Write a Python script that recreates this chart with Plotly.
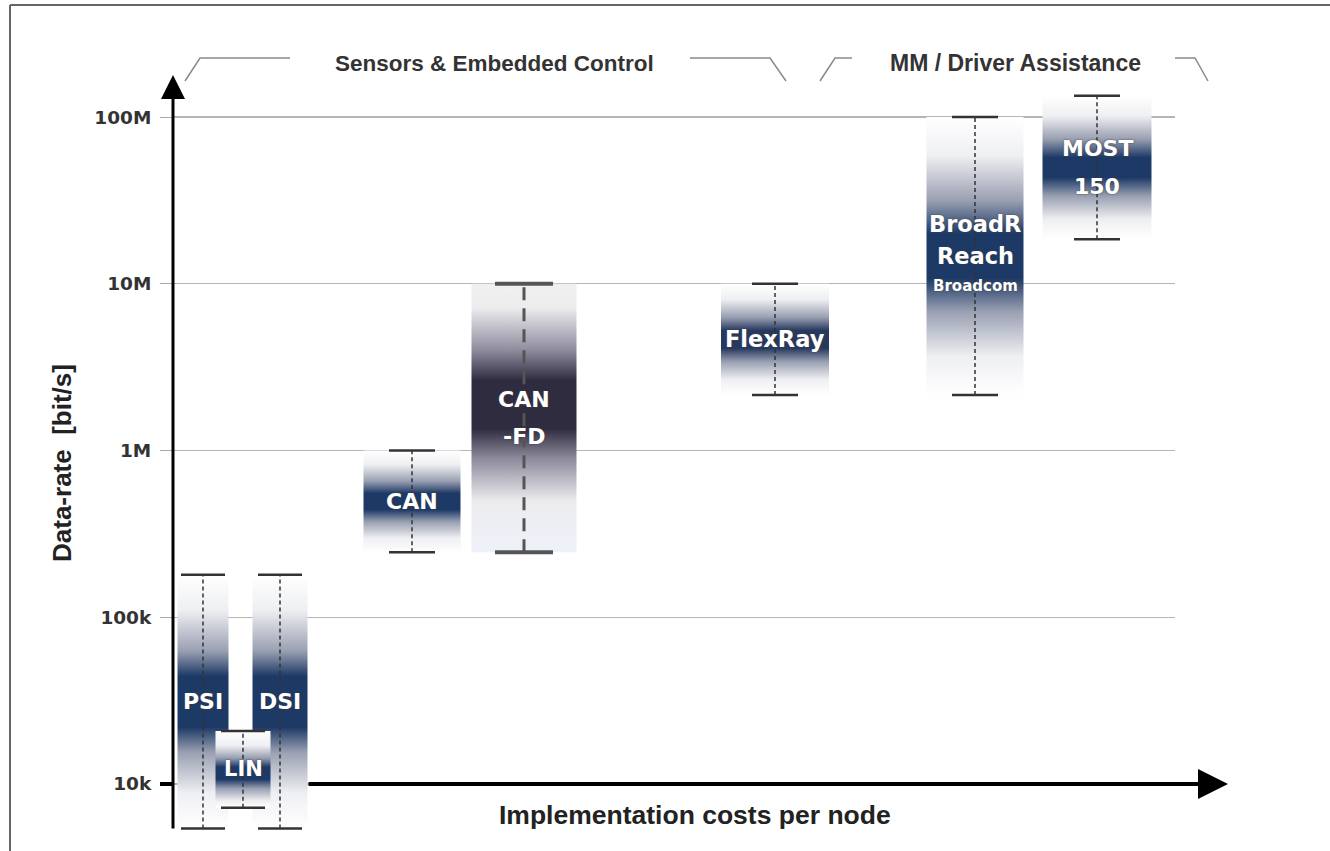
import math
import plotly.graph_objects as go

# ---------------- data ----------------
protocols = ["PSI", "DSI", "LIN", "CAN", "CAN-FD", "FlexRay", "BroadR-Reach", "MOST150"]
cost_index = [30, 107, 70, 239, 351, 602, 802, 924]          # relative implementation cost (x)
rate_min = [5.4e3, 5.4e3, 7.2e3, 2.45e5, 2.45e5, 2.15e6, 2.15e6, 1.85e7]   # bit/s
rate_max = [1.8e5, 1.8e5, 2.08e4, 1.0e6, 1.0e7, 1.0e7, 1.0e8, 1.34e8]      # bit/s
bar_labels = [["PSI"], ["DSI"], ["LIN"], ["CAN"], ["CAN", "-FD"], ["FlexRay"],
              ["BroadR", "Reach", "Broadcom"], ["MOST", "150"]]
tick_values = [1e4, 1e5, 1e6, 1e7, 1e8]
tick_labels = ["10k", "100k", "1M", "10M", "100M"]
group_labels = ["Sensors & Embedded Control", "MM / Driver Assistance"]
y_title = "Data-rate\u00a0\u00a0[bit/s]"
x_title = "Implementation costs per node"

# ---------------- styles ----------------
OFF = 0                      # page body margin is removed by post_script below
W, H = 1330 - OFF, 851 - OFF
L, R, T, B = 173 - OFF, 155, 75 - OFF, 21
PW, PH = W - L - R, H - T - B
Y_RANGE = [3.724, 8.252]
X_RANGE = [0, PW]

bar_width = [51, 55, 55, 97, 105, 108, 97, 109]
cap_width = [44, 44, 44, 46, 58, 46, 46, 46]
grad_center = [0.5, 0.5, 0.45, 0.5, 0.55, 0.5, 0.5, 0.5]
grad_half = [0.1, 0.1, 0.08, 0.08, 0.09, 0.08, 0.08, 0.07]
dark_col = ["#1d3966", "#1d3966", "#1d3966", "#1d3966", "#2f2c3f", "#27395f", "#1d3966", "#1d3966"]
mid_col = ["#9aa0b2"] * 4 + ["#8d8a9c"] + ["#9aa0b2"] * 3
light_col = ["#eeeff2"] * 4 + ["#ececee"] + ["#eeeff2"] * 3
top_col = ["#ffffff"] * 4 + ["#f0f0f1"] + ["#ffffff"] * 3
bot_col = ["#ffffff"] * 4 + ["#eef1f9"] + ["#ffffff"] * 3
whisk_col = ["#333333"] * 4 + ["#555555"] + ["#333333"] * 3
whisk_w = [1.5] * 4 + [3] + [1.5] * 3
whisk_dash = ["4px,3px"] * 4 + ["13px,8px"] + ["4px,3px"] * 3
cap_lw = [2.5] * 4 + [4] + [2.5] * 3
line_gap = [0, 0, 0, 0, 37, 0, 32, 38]
label_size = [22, 22, 21, 22, 22, 22.5, 22.5, 22]


def px_x(p):
    """reference-picture pixel x -> paper fraction"""
    return (p - OFF - L) / PW


def px_y(p):
    """reference-picture pixel y -> paper fraction"""
    return (H - B - (p - OFF)) / PH


def log_frac(v):
    return (math.log10(v) - Y_RANGE[0]) / (Y_RANGE[1] - Y_RANGE[0])


def gradient(i):
    c, hw = grad_center[i], grad_half[i]
    pts = [(0, bot_col[i]), (c - 0.36, light_col[i]), (c - 0.2, mid_col[i]),
           (c - hw, dark_col[i]), (c + hw, dark_col[i]), (c + 0.2, mid_col[i]),
           (c + 0.36, light_col[i]), (1, top_col[i])]
    out = []
    for p, col in pts:
        p = min(max(p, 0), 1)
        if out and p <= out[-1][0]:
            p = min(out[-1][0] + 0.001, 1)
        out.append([p, col])
    out[-1][0] = 1
    return out


fig = go.Figure()

# gradient bars
for i, name in enumerate(protocols):
    x0 = cost_index[i] - bar_width[i] / 2
    x1 = cost_index[i] + bar_width[i] / 2
    fig.add_trace(go.Scatter(
        x=[x0, x1, x1, x0, x0],
        y=[rate_min[i], rate_min[i], rate_max[i], rate_max[i], rate_min[i]],
        mode="lines", line=dict(width=0, color="rgba(0,0,0,0)"),
        fill="toself",
        fillgradient=dict(type="vertical", colorscale=gradient(i)),
        hoverinfo="skip", showlegend=False, name=name))

# whiskers
for i, name in enumerate(protocols):
    c = cost_index[i]
    fig.add_trace(go.Scatter(
        x=[c, c], y=[rate_min[i], rate_max[i]], mode="lines",
        line=dict(color=whisk_col[i], width=whisk_w[i], dash=whisk_dash[i]),
        hoverinfo="skip", showlegend=False))
    hw = cap_width[i] / 2
    fig.add_trace(go.Scatter(
        x=[c - hw, c + hw, None, c - hw, c + hw],
        y=[rate_min[i], rate_min[i], None, rate_max[i], rate_max[i]], mode="lines",
        line=dict(color=whisk_col[i], width=cap_lw[i]),
        hoverinfo="skip", showlegend=False))

annotations = []
# bar labels
for i, lines in enumerate(bar_labels):
    mid = (math.log10(rate_min[i]) + math.log10(rate_max[i])) / 2
    n = len(lines)
    for k, txt in enumerate(lines):
        size = label_size[i]
        shift = ((n - 1) / 2 - k) * line_gap[i]
        if txt == "Broadcom":
            size = 15
            shift += 2
        annotations.append(dict(
            x=cost_index[i], y=mid, xref="x", yref="y", text=txt, showarrow=False,
            xanchor="center", yanchor="middle", yshift=shift,
            font=dict(family="DejaVu Sans", size=size, color="white", weight="bold",
                      shadow="0px 0px 2px #444")))


def text_ann(px, py, txt, size, color="#222", angle=0):
    return dict(x=px_x(px), y=px_y(py), xref="paper", yref="paper", text=txt,
                showarrow=False, xanchor="center", yanchor="middle", textangle=angle,
                font=dict(family="Liberation Sans", size=size, color=color, weight="bold"))


# axis titles
annotations.append(text_ann(695, 815, x_title, 26.5))
annotations.append(text_ann(62, 463, y_title, 26, angle=-90))
# group labels
annotations.append(text_ann(494, 63, group_labels[0], 22.5, "#333"))
annotations.append(text_ann(1015, 63, group_labels[1], 23, "#333"))
# axis arrows
annotations.append(dict(x=0, y=1, xref="paper", yref="paper", ax=0, ay=PH, axref="pixel",
                        ayref="pixel", text="", showarrow=True, arrowhead=2, arrowsize=1.6,
                        arrowwidth=3, arrowcolor="black", standoff=0))
annotations.append(dict(x=px_x(1228), y=log_frac(1e4), xref="paper", yref="paper",
                        ax=-(1228 - 307), ay=0, text="", showarrow=True, arrowhead=2,
                        arrowsize=1.5, arrowwidth=4, arrowcolor="black", standoff=0))

shapes = []
# frame
shapes.append(dict(type="line", xref="paper", yref="paper", x0=px_x(10), x1=px_x(10),
                   y0=px_y(5), y1=px_y(851), line=dict(color="#666", width=2)))
shapes.append(dict(type="line", xref="paper", yref="paper", x0=px_x(10), x1=px_x(1330),
                   y0=px_y(5), y1=px_y(5), line=dict(color="#666", width=2)))
# thick 10k tick
shapes.append(dict(type="line", xref="paper", yref="paper", x0=px_x(160), x1=px_x(174),
                   y0=log_frac(1e4), y1=log_frac(1e4), line=dict(color="black", width=4)))
# brackets
brackets = [
    [(185, 81), (200, 58), (290, 58)],
    [(690, 58), (770, 58), (786, 81)],
    [(820, 81), (835, 58), (852, 58)],
    [(1175, 58), (1195, 58), (1208, 81)],
]
for br in brackets:
    path = "M " + " L ".join(f"{px_x(a):.5f},{px_y(b):.5f}" for a, b in br)
    shapes.append(dict(type="path", xref="paper", yref="paper", path=path,
                       line=dict(color="#8a8a8a", width=1.5)))

fig.update_layout(
    width=W, height=H, autosize=False,
    margin=dict(l=L, r=R, t=T, b=B, pad=0),
    paper_bgcolor="white", plot_bgcolor="white",
    showlegend=False,
    xaxis=dict(range=X_RANGE, visible=False, fixedrange=True),
    yaxis=dict(type="log", range=Y_RANGE, tickvals=tick_values, ticktext=tick_labels,
               showgrid=True, gridcolor="#b5b5b5", gridwidth=1.3, zeroline=False,
               showline=False, ticks="outside", ticklen=12, tickcolor="#aaa", tickwidth=1,
               ticklabelstandoff=5, fixedrange=True,
               tickfont=dict(family="DejaVu Sans", size=18.5, color="#333", weight="bold")),
    annotations=annotations, shapes=shapes,
)

fig.write_html(
    "out.html",
    config={"displayModeBar": False, "staticPlot": True},
    post_script="document.body.style.margin='0px';document.body.style.overflow='hidden';",
)
